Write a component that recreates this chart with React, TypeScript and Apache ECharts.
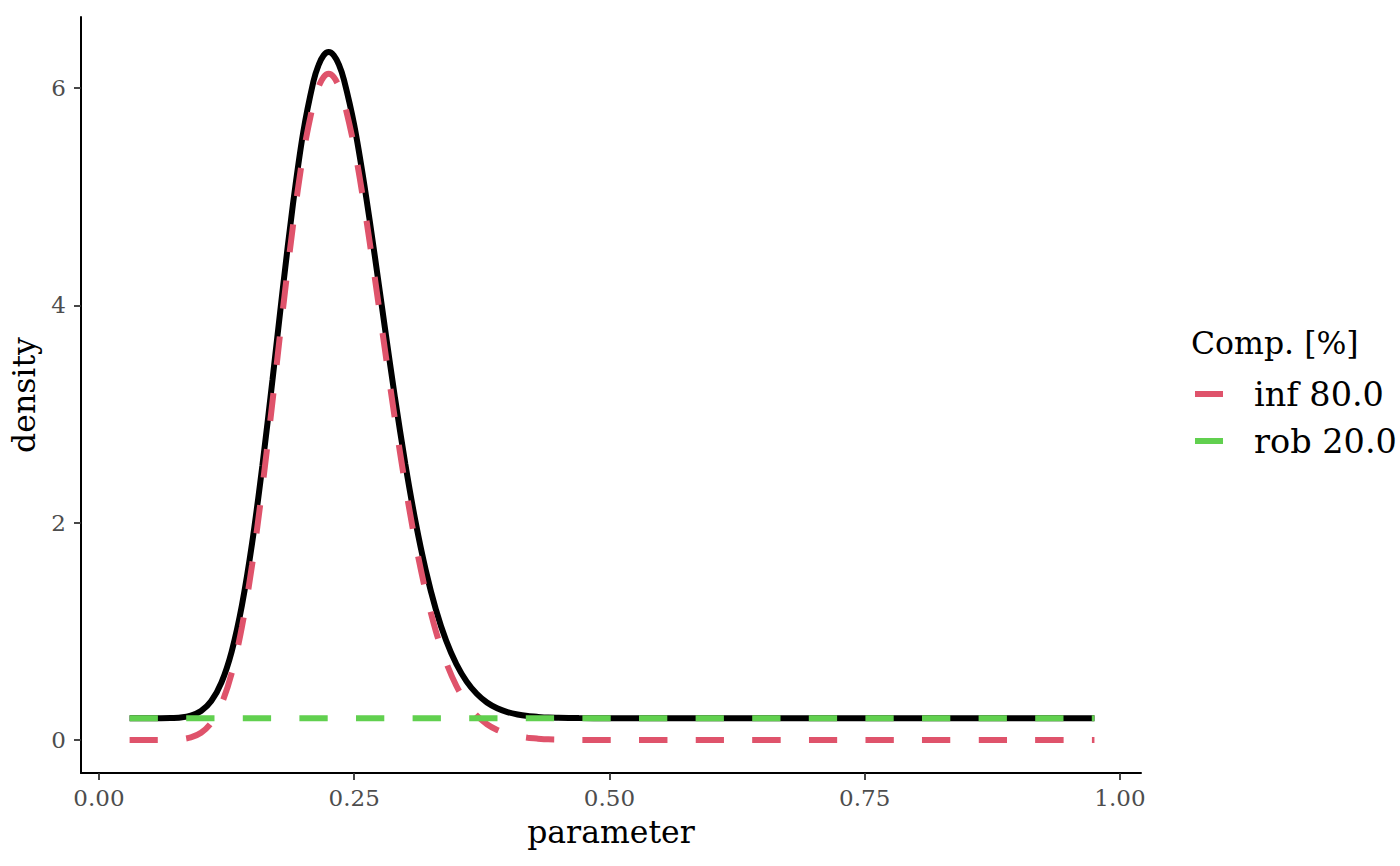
import React, { useEffect, useRef } from "react";
import * as echarts from "echarts";

const FONT = "DejaVu Serif";

// parameter grid (x)
const xGrid = [0.03, 0.05, 0.07, 0.08, 0.09, 0.10, 0.11, 0.12, 0.13, 0.14, 0.15, 0.16, 0.17, 0.18, 0.19, 0.20, 0.21, 0.215, 0.22, 0.225, 0.23, 0.235, 0.24, 0.25, 0.26, 0.27, 0.28, 0.29, 0.30, 0.31, 0.32, 0.33, 0.34, 0.35, 0.36, 0.37, 0.38, 0.39, 0.40, 0.41, 0.42, 0.43, 0.44, 0.45, 0.47, 0.50, 0.60, 0.70, 0.80, 0.90, 0.975];
// informative component (80%) density
const infVals = [0, 0, 0.002, 0.007, 0.024, 0.066, 0.158, 0.330, 0.615, 1.039, 1.612, 2.320, 3.118, 3.948, 4.730, 5.389, 5.858, 6.009, 6.100, 6.130, 6.100, 6.014, 5.874, 5.458, 4.903, 4.264, 3.596, 2.944, 2.342, 1.811, 1.364, 1.000, 0.715, 0.499, 0.339, 0.225, 0.145, 0.092, 0.057, 0.034, 0.020, 0.012, 0.006, 0.004, 0.001, 0, 0, 0, 0, 0, 0];
// mixture density (black)
const mixVals = [0.2, 0.2, 0.202, 0.207, 0.224, 0.266, 0.358, 0.530, 0.815, 1.239, 1.812, 2.520, 3.318, 4.148, 4.930, 5.589, 6.058, 6.209, 6.300, 6.330, 6.300, 6.214, 6.074, 5.658, 5.103, 4.464, 3.796, 3.144, 2.542, 2.011, 1.564, 1.200, 0.915, 0.699, 0.539, 0.425, 0.345, 0.292, 0.257, 0.234, 0.220, 0.212, 0.206, 0.204, 0.201, 0.2, 0.2, 0.2, 0.2, 0.2, 0.2];
// robust component (20%) density
const robX = [0.03, 0.975];
const robVals = [0.2, 0.2];

const xTicks = [0, 0.25, 0.5, 0.75, 1];
const yTicks = [0, 2, 4, 6];
const legendNames = ["inf 80.0", "rob 20.0"];
const RED = "#DF536B";
const GREEN = "#61D04F";

export default function App() {
  const ref = useRef<HTMLDivElement>(null);
  useEffect(() => {
    if (!ref.current) return;
    const chart = echarts.init(ref.current, undefined, { renderer: "svg" });
    const zip = (xs: number[], ys: number[]) => xs.map((x, i) => [x, ys[i]]);
    chart.setOption({
      animation: false,
      backgroundColor: "#fff",
      title: {
        text: "Comp. [%]",
        left: 1191,
        top: 327,
        padding: 0,
        textStyle: { fontFamily: FONT, fontSize: 31.5, fontWeight: "normal", color: "#000" },
      },
      legend: {
        orient: "vertical",
        left: 1195,
        top: 377,
        itemWidth: 28,
        itemHeight: 6,
        itemGap: 13,
        padding: 0,
        icon: "rect",
        selectedMode: false,
        textStyle: { fontFamily: FONT, fontSize: 33.5, lineHeight: 34, color: "#000", padding: [0, 0, 0, 26] },
        data: [
          { name: legendNames[0], itemStyle: { color: RED } },
          { name: legendNames[1], itemStyle: { color: GREEN } },
        ],
      },
      grid: { left: 81, top: 17, width: 1060, height: 756, containLabel: false, outerBoundsMode: "none" },
      xAxis: {
        type: "value",
        min: -0.0176,
        max: 1.0206,
        name: "parameter",
        nameLocation: "middle",
        nameGap: 43,
        nameTextStyle: { fontFamily: FONT, fontSize: 31.5, color: "#000" },
        axisLine: { show: true, onZero: false, lineStyle: { color: "#000", width: 2 } },
        axisTick: { show: true, length: 7, lineStyle: { color: "#333", width: 1.8 }, customValues: xTicks },
        axisLabel: {
          fontFamily: FONT,
          fontSize: 23,
          color: "#4D4D4D",
          margin: 13,
          customValues: xTicks,
          formatter: (v: number) => v.toFixed(2),
        },
        splitLine: { show: false },
      },
      yAxis: {
        type: "value",
        min: -0.304,
        max: 6.653,
        name: "density",
        nameLocation: "middle",
        nameGap: 36,
        nameRotate: 90,
        nameTextStyle: { fontFamily: FONT, fontSize: 31.5, color: "#000" },
        axisLine: { show: true, onZero: false, lineStyle: { color: "#000", width: 2 } },
        axisTick: { show: true, length: 7, lineStyle: { color: "#333", width: 1.8 }, customValues: yTicks },
        axisLabel: {
          fontFamily: FONT,
          fontSize: 23,
          color: "#4D4D4D",
          margin: 15,
          customValues: yTicks,
          formatter: (v: number) => String(v),
        },
        splitLine: { show: false },
      },
      series: [
        {
          name: "mixture",
          type: "line",
          data: zip(xGrid, mixVals),
          showSymbol: false,
          smooth: 0.3,
          lineStyle: { color: "#000", width: 6 },
          itemStyle: { color: "#000" },
          z: 1,
        },
        {
          name: legendNames[0],
          type: "line",
          data: zip(xGrid, infVals),
          showSymbol: false,
          smooth: 0.3,
          lineStyle: { color: RED, width: 6, type: [28.3, 28.3], cap: "butt" },
          itemStyle: { color: RED },
          z: 2,
        },
        {
          name: legendNames[1],
          type: "line",
          data: zip(robX, robVals),
          showSymbol: false,
          lineStyle: { color: GREEN, width: 6, type: [28.3, 28.3], cap: "butt" },
          itemStyle: { color: GREEN },
          z: 3,
        },
      ],
    });
    return () => chart.dispose();
  }, []);
  return (
    <div
      ref={ref}
      style={{ position: "fixed", left: 0, top: 0, width: 1400, height: 866, background: "#fff" }}
    />
  );
}
